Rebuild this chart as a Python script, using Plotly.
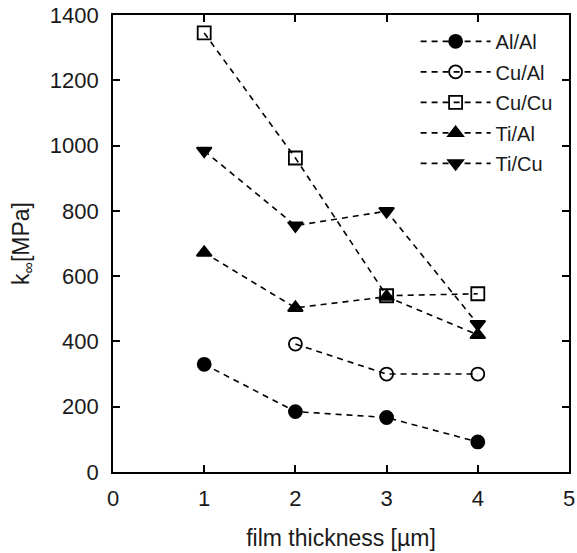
import plotly.graph_objects as go

thickness = [1, 2, 3, 4]
al_al = [330, 185, 167, 92]
cu_al = [None, 392, 300, 300]
cu_cu = [1345, 962, 540, 546]
ti_al = [672, 503, 537, 420]
ti_cu = [984, 755, 799, 453]

x_ticks = [0, 1, 2, 3, 4, 5]
y_ticks = [0, 200, 400, 600, 800, 1000, 1200, 1400]

series = [
    ("Al/Al", al_al, "circle"),
    ("Cu/Al", cu_al, "circle-open"),
    ("Cu/Cu", cu_cu, "square-open"),
    ("Ti/Al", ti_al, "triangle-up"),
    ("Ti/Cu", ti_cu, "triangle-down"),
]

FONT = "Liberation Sans, Arial, sans-serif"
TXT = "#1a1a1a"

fig = go.Figure()
for name, vals, sym in series:
    fig.add_trace(go.Scatter(
        x=thickness, y=vals, name=name, legendgroup=name,
        mode="lines+markers", connectgaps=False,
        line=dict(color="black", width=1.6, dash="6px,5px"),
        marker=dict(symbol=sym, size=13, color="black",
                    line=dict(color="black", width=1.8)),
    ))

axis_common = dict(
    showline=True, linecolor="black", linewidth=1.6, mirror="ticks",
    ticks="inside", ticklen=7, tickwidth=1.6, tickcolor="black",
    showgrid=False, zeroline=False, automargin=False,
    tickfont=dict(family=FONT, size=22, color=TXT),
)

fig.update_layout(
    width=577, height=553,
    margin=dict(l=113, r=8, t=15, b=81),
    paper_bgcolor="white", plot_bgcolor="white",
    font=dict(family=FONT, color=TXT),
    xaxis=dict(range=[0, 5], tickvals=x_ticks, ticklabelstandoff=6,
               title=dict(text="film thickness [µm]",
                          font=dict(size=23, family=FONT, color=TXT), standoff=20),
               **axis_common),
    yaxis=dict(range=[0, 1400], tickvals=y_ticks, ticklabelstandoff=8,
               title=dict(text="k<sub>∞</sub>[MPa]",
                          font=dict(size=23, family=FONT, color=TXT), standoff=14),
               **axis_common),
    legend=dict(x=0.975, y=0.985, xanchor="right", yanchor="top",
                bgcolor="rgba(0,0,0,0)", borderwidth=0,
                font=dict(size=20, family=FONT, color=TXT),
                itemwidth=70, tracegroupgap=1.5),
    showlegend=True,
)

fig.write_html("out.html")
